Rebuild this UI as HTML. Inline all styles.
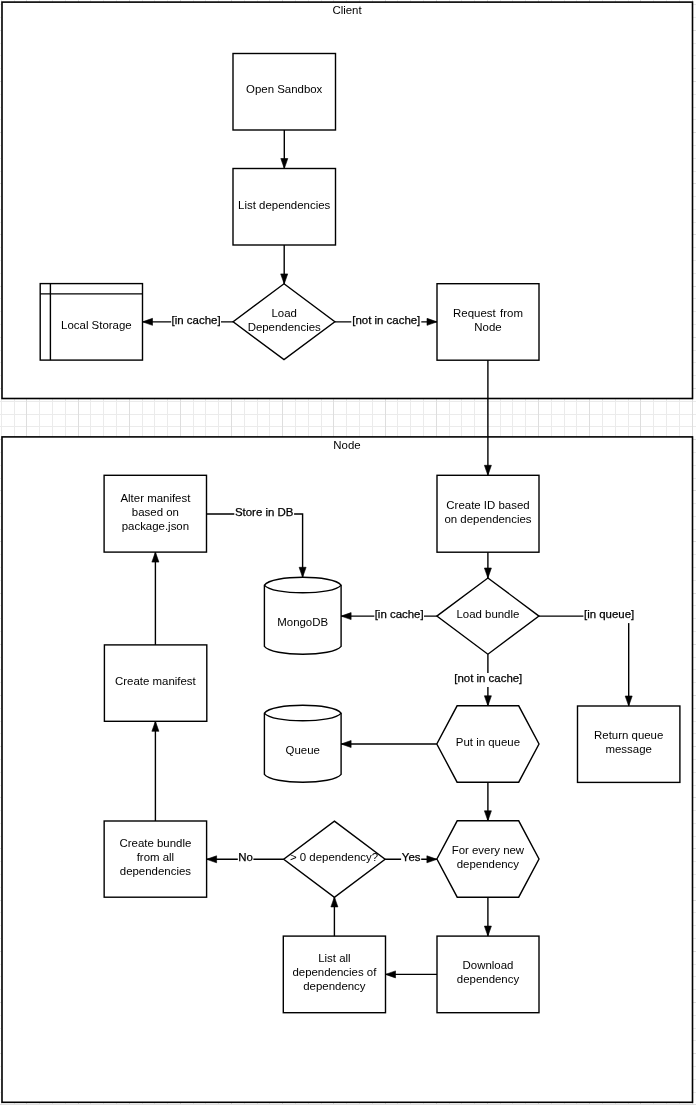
<!DOCTYPE html>
<html><head><meta charset="utf-8"><style>
html,body{margin:0;padding:0;background:#fff;}
body{width:696px;height:1105px;overflow:hidden;position:relative;}
svg{position:absolute;left:0;top:0;will-change:transform;}
.t{will-change:transform;}
text{font-family:"Liberation Sans",sans-serif;font-size:11.45px;}
</style></head><body>
<svg width="696" height="1105" viewBox="0 0 696 1105">
<g><line x1="1.50" y1="0" x2="1.50" y2="1105" stroke="#ebebeb" stroke-width="1"/><line x1="14.50" y1="0" x2="14.50" y2="1105" stroke="#ebebeb" stroke-width="1"/><line x1="39.50" y1="0" x2="39.50" y2="1105" stroke="#ebebeb" stroke-width="1"/><line x1="52.50" y1="0" x2="52.50" y2="1105" stroke="#ebebeb" stroke-width="1"/><line x1="65.50" y1="0" x2="65.50" y2="1105" stroke="#ebebeb" stroke-width="1"/><line x1="90.50" y1="0" x2="90.50" y2="1105" stroke="#ebebeb" stroke-width="1"/><line x1="103.50" y1="0" x2="103.50" y2="1105" stroke="#ebebeb" stroke-width="1"/><line x1="116.50" y1="0" x2="116.50" y2="1105" stroke="#ebebeb" stroke-width="1"/><line x1="142.50" y1="0" x2="142.50" y2="1105" stroke="#ebebeb" stroke-width="1"/><line x1="154.50" y1="0" x2="154.50" y2="1105" stroke="#ebebeb" stroke-width="1"/><line x1="167.50" y1="0" x2="167.50" y2="1105" stroke="#ebebeb" stroke-width="1"/><line x1="193.50" y1="0" x2="193.50" y2="1105" stroke="#ebebeb" stroke-width="1"/><line x1="205.50" y1="0" x2="205.50" y2="1105" stroke="#ebebeb" stroke-width="1"/><line x1="218.50" y1="0" x2="218.50" y2="1105" stroke="#ebebeb" stroke-width="1"/><line x1="244.50" y1="0" x2="244.50" y2="1105" stroke="#ebebeb" stroke-width="1"/><line x1="257.50" y1="0" x2="257.50" y2="1105" stroke="#ebebeb" stroke-width="1"/><line x1="269.50" y1="0" x2="269.50" y2="1105" stroke="#ebebeb" stroke-width="1"/><line x1="295.50" y1="0" x2="295.50" y2="1105" stroke="#ebebeb" stroke-width="1"/><line x1="308.50" y1="0" x2="308.50" y2="1105" stroke="#ebebeb" stroke-width="1"/><line x1="321.50" y1="0" x2="321.50" y2="1105" stroke="#ebebeb" stroke-width="1"/><line x1="346.50" y1="0" x2="346.50" y2="1105" stroke="#ebebeb" stroke-width="1"/><line x1="359.50" y1="0" x2="359.50" y2="1105" stroke="#ebebeb" stroke-width="1"/><line x1="372.50" y1="0" x2="372.50" y2="1105" stroke="#ebebeb" stroke-width="1"/><line x1="397.50" y1="0" x2="397.50" y2="1105" stroke="#ebebeb" stroke-width="1"/><line x1="410.50" y1="0" x2="410.50" y2="1105" stroke="#ebebeb" stroke-width="1"/><line x1="423.50" y1="0" x2="423.50" y2="1105" stroke="#ebebeb" stroke-width="1"/><line x1="449.50" y1="0" x2="449.50" y2="1105" stroke="#ebebeb" stroke-width="1"/><line x1="461.50" y1="0" x2="461.50" y2="1105" stroke="#ebebeb" stroke-width="1"/><line x1="474.50" y1="0" x2="474.50" y2="1105" stroke="#ebebeb" stroke-width="1"/><line x1="500.50" y1="0" x2="500.50" y2="1105" stroke="#ebebeb" stroke-width="1"/><line x1="512.50" y1="0" x2="512.50" y2="1105" stroke="#ebebeb" stroke-width="1"/><line x1="525.50" y1="0" x2="525.50" y2="1105" stroke="#ebebeb" stroke-width="1"/><line x1="551.50" y1="0" x2="551.50" y2="1105" stroke="#ebebeb" stroke-width="1"/><line x1="564.50" y1="0" x2="564.50" y2="1105" stroke="#ebebeb" stroke-width="1"/><line x1="576.50" y1="0" x2="576.50" y2="1105" stroke="#ebebeb" stroke-width="1"/><line x1="602.50" y1="0" x2="602.50" y2="1105" stroke="#ebebeb" stroke-width="1"/><line x1="615.50" y1="0" x2="615.50" y2="1105" stroke="#ebebeb" stroke-width="1"/><line x1="628.50" y1="0" x2="628.50" y2="1105" stroke="#ebebeb" stroke-width="1"/><line x1="653.50" y1="0" x2="653.50" y2="1105" stroke="#ebebeb" stroke-width="1"/><line x1="666.50" y1="0" x2="666.50" y2="1105" stroke="#ebebeb" stroke-width="1"/><line x1="679.50" y1="0" x2="679.50" y2="1105" stroke="#ebebeb" stroke-width="1"/><line x1="0" y1="4.50" x2="696" y2="4.50" stroke="#ebebeb" stroke-width="1"/><line x1="0" y1="17.50" x2="696" y2="17.50" stroke="#ebebeb" stroke-width="1"/><line x1="0" y1="43.50" x2="696" y2="43.50" stroke="#ebebeb" stroke-width="1"/><line x1="0" y1="55.50" x2="696" y2="55.50" stroke="#ebebeb" stroke-width="1"/><line x1="0" y1="68.50" x2="696" y2="68.50" stroke="#ebebeb" stroke-width="1"/><line x1="0" y1="94.50" x2="696" y2="94.50" stroke="#ebebeb" stroke-width="1"/><line x1="0" y1="107.50" x2="696" y2="107.50" stroke="#ebebeb" stroke-width="1"/><line x1="0" y1="119.50" x2="696" y2="119.50" stroke="#ebebeb" stroke-width="1"/><line x1="0" y1="145.50" x2="696" y2="145.50" stroke="#ebebeb" stroke-width="1"/><line x1="0" y1="158.50" x2="696" y2="158.50" stroke="#ebebeb" stroke-width="1"/><line x1="0" y1="171.50" x2="696" y2="171.50" stroke="#ebebeb" stroke-width="1"/><line x1="0" y1="196.50" x2="696" y2="196.50" stroke="#ebebeb" stroke-width="1"/><line x1="0" y1="209.50" x2="696" y2="209.50" stroke="#ebebeb" stroke-width="1"/><line x1="0" y1="222.50" x2="696" y2="222.50" stroke="#ebebeb" stroke-width="1"/><line x1="0" y1="247.50" x2="696" y2="247.50" stroke="#ebebeb" stroke-width="1"/><line x1="0" y1="260.50" x2="696" y2="260.50" stroke="#ebebeb" stroke-width="1"/><line x1="0" y1="273.50" x2="696" y2="273.50" stroke="#ebebeb" stroke-width="1"/><line x1="0" y1="298.50" x2="696" y2="298.50" stroke="#ebebeb" stroke-width="1"/><line x1="0" y1="311.50" x2="696" y2="311.50" stroke="#ebebeb" stroke-width="1"/><line x1="0" y1="324.50" x2="696" y2="324.50" stroke="#ebebeb" stroke-width="1"/><line x1="0" y1="350.50" x2="696" y2="350.50" stroke="#ebebeb" stroke-width="1"/><line x1="0" y1="362.50" x2="696" y2="362.50" stroke="#ebebeb" stroke-width="1"/><line x1="0" y1="375.50" x2="696" y2="375.50" stroke="#ebebeb" stroke-width="1"/><line x1="0" y1="401.50" x2="696" y2="401.50" stroke="#ebebeb" stroke-width="1"/><line x1="0" y1="414.50" x2="696" y2="414.50" stroke="#ebebeb" stroke-width="1"/><line x1="0" y1="426.50" x2="696" y2="426.50" stroke="#ebebeb" stroke-width="1"/><line x1="0" y1="452.50" x2="696" y2="452.50" stroke="#ebebeb" stroke-width="1"/><line x1="0" y1="465.50" x2="696" y2="465.50" stroke="#ebebeb" stroke-width="1"/><line x1="0" y1="478.50" x2="696" y2="478.50" stroke="#ebebeb" stroke-width="1"/><line x1="0" y1="503.50" x2="696" y2="503.50" stroke="#ebebeb" stroke-width="1"/><line x1="0" y1="516.50" x2="696" y2="516.50" stroke="#ebebeb" stroke-width="1"/><line x1="0" y1="529.50" x2="696" y2="529.50" stroke="#ebebeb" stroke-width="1"/><line x1="0" y1="554.50" x2="696" y2="554.50" stroke="#ebebeb" stroke-width="1"/><line x1="0" y1="567.50" x2="696" y2="567.50" stroke="#ebebeb" stroke-width="1"/><line x1="0" y1="580.50" x2="696" y2="580.50" stroke="#ebebeb" stroke-width="1"/><line x1="0" y1="605.50" x2="696" y2="605.50" stroke="#ebebeb" stroke-width="1"/><line x1="0" y1="618.50" x2="696" y2="618.50" stroke="#ebebeb" stroke-width="1"/><line x1="0" y1="631.50" x2="696" y2="631.50" stroke="#ebebeb" stroke-width="1"/><line x1="0" y1="657.50" x2="696" y2="657.50" stroke="#ebebeb" stroke-width="1"/><line x1="0" y1="669.50" x2="696" y2="669.50" stroke="#ebebeb" stroke-width="1"/><line x1="0" y1="682.50" x2="696" y2="682.50" stroke="#ebebeb" stroke-width="1"/><line x1="0" y1="708.50" x2="696" y2="708.50" stroke="#ebebeb" stroke-width="1"/><line x1="0" y1="721.50" x2="696" y2="721.50" stroke="#ebebeb" stroke-width="1"/><line x1="0" y1="733.50" x2="696" y2="733.50" stroke="#ebebeb" stroke-width="1"/><line x1="0" y1="759.50" x2="696" y2="759.50" stroke="#ebebeb" stroke-width="1"/><line x1="0" y1="772.50" x2="696" y2="772.50" stroke="#ebebeb" stroke-width="1"/><line x1="0" y1="785.50" x2="696" y2="785.50" stroke="#ebebeb" stroke-width="1"/><line x1="0" y1="810.50" x2="696" y2="810.50" stroke="#ebebeb" stroke-width="1"/><line x1="0" y1="823.50" x2="696" y2="823.50" stroke="#ebebeb" stroke-width="1"/><line x1="0" y1="836.50" x2="696" y2="836.50" stroke="#ebebeb" stroke-width="1"/><line x1="0" y1="861.50" x2="696" y2="861.50" stroke="#ebebeb" stroke-width="1"/><line x1="0" y1="874.50" x2="696" y2="874.50" stroke="#ebebeb" stroke-width="1"/><line x1="0" y1="887.50" x2="696" y2="887.50" stroke="#ebebeb" stroke-width="1"/><line x1="0" y1="912.50" x2="696" y2="912.50" stroke="#ebebeb" stroke-width="1"/><line x1="0" y1="925.50" x2="696" y2="925.50" stroke="#ebebeb" stroke-width="1"/><line x1="0" y1="938.50" x2="696" y2="938.50" stroke="#ebebeb" stroke-width="1"/><line x1="0" y1="964.50" x2="696" y2="964.50" stroke="#ebebeb" stroke-width="1"/><line x1="0" y1="976.50" x2="696" y2="976.50" stroke="#ebebeb" stroke-width="1"/><line x1="0" y1="989.50" x2="696" y2="989.50" stroke="#ebebeb" stroke-width="1"/><line x1="0" y1="1015.50" x2="696" y2="1015.50" stroke="#ebebeb" stroke-width="1"/><line x1="0" y1="1028.50" x2="696" y2="1028.50" stroke="#ebebeb" stroke-width="1"/><line x1="0" y1="1040.50" x2="696" y2="1040.50" stroke="#ebebeb" stroke-width="1"/><line x1="0" y1="1066.50" x2="696" y2="1066.50" stroke="#ebebeb" stroke-width="1"/><line x1="0" y1="1079.50" x2="696" y2="1079.50" stroke="#ebebeb" stroke-width="1"/><line x1="0" y1="1092.50" x2="696" y2="1092.50" stroke="#ebebeb" stroke-width="1"/><line x1="26.50" y1="0" x2="26.50" y2="1105" stroke="#dedede" stroke-width="1"/><line x1="78.50" y1="0" x2="78.50" y2="1105" stroke="#dedede" stroke-width="1"/><line x1="129.50" y1="0" x2="129.50" y2="1105" stroke="#dedede" stroke-width="1"/><line x1="180.50" y1="0" x2="180.50" y2="1105" stroke="#dedede" stroke-width="1"/><line x1="231.50" y1="0" x2="231.50" y2="1105" stroke="#dedede" stroke-width="1"/><line x1="282.50" y1="0" x2="282.50" y2="1105" stroke="#dedede" stroke-width="1"/><line x1="333.50" y1="0" x2="333.50" y2="1105" stroke="#dedede" stroke-width="1"/><line x1="385.50" y1="0" x2="385.50" y2="1105" stroke="#dedede" stroke-width="1"/><line x1="436.50" y1="0" x2="436.50" y2="1105" stroke="#dedede" stroke-width="1"/><line x1="487.50" y1="0" x2="487.50" y2="1105" stroke="#dedede" stroke-width="1"/><line x1="538.50" y1="0" x2="538.50" y2="1105" stroke="#dedede" stroke-width="1"/><line x1="589.50" y1="0" x2="589.50" y2="1105" stroke="#dedede" stroke-width="1"/><line x1="640.50" y1="0" x2="640.50" y2="1105" stroke="#dedede" stroke-width="1"/><line x1="692.50" y1="0" x2="692.50" y2="1105" stroke="#dedede" stroke-width="1"/><line x1="0" y1="30.50" x2="696" y2="30.50" stroke="#dedede" stroke-width="1"/><line x1="0" y1="81.50" x2="696" y2="81.50" stroke="#dedede" stroke-width="1"/><line x1="0" y1="132.50" x2="696" y2="132.50" stroke="#dedede" stroke-width="1"/><line x1="0" y1="183.50" x2="696" y2="183.50" stroke="#dedede" stroke-width="1"/><line x1="0" y1="234.50" x2="696" y2="234.50" stroke="#dedede" stroke-width="1"/><line x1="0" y1="286.50" x2="696" y2="286.50" stroke="#dedede" stroke-width="1"/><line x1="0" y1="337.50" x2="696" y2="337.50" stroke="#dedede" stroke-width="1"/><line x1="0" y1="388.50" x2="696" y2="388.50" stroke="#dedede" stroke-width="1"/><line x1="0" y1="439.50" x2="696" y2="439.50" stroke="#dedede" stroke-width="1"/><line x1="0" y1="490.50" x2="696" y2="490.50" stroke="#dedede" stroke-width="1"/><line x1="0" y1="541.50" x2="696" y2="541.50" stroke="#dedede" stroke-width="1"/><line x1="0" y1="593.50" x2="696" y2="593.50" stroke="#dedede" stroke-width="1"/><line x1="0" y1="644.50" x2="696" y2="644.50" stroke="#dedede" stroke-width="1"/><line x1="0" y1="695.50" x2="696" y2="695.50" stroke="#dedede" stroke-width="1"/><line x1="0" y1="746.50" x2="696" y2="746.50" stroke="#dedede" stroke-width="1"/><line x1="0" y1="797.50" x2="696" y2="797.50" stroke="#dedede" stroke-width="1"/><line x1="0" y1="848.50" x2="696" y2="848.50" stroke="#dedede" stroke-width="1"/><line x1="0" y1="900.50" x2="696" y2="900.50" stroke="#dedede" stroke-width="1"/><line x1="0" y1="951.50" x2="696" y2="951.50" stroke="#dedede" stroke-width="1"/><line x1="0" y1="1002.50" x2="696" y2="1002.50" stroke="#dedede" stroke-width="1"/><line x1="0" y1="1053.50" x2="696" y2="1053.50" stroke="#dedede" stroke-width="1"/><line x1="0" y1="1104.50" x2="696" y2="1104.50" stroke="#dedede" stroke-width="1"/></g>
<g><rect x="2.0" y="2.1" width="690.50" height="396.40" fill="#fff" stroke="#000" stroke-width="1.6"/><rect x="2.0" y="436.9" width="690.50" height="665.40" fill="#fff" stroke="#000" stroke-width="1.6"/><rect x="233.0" y="53.5" width="102.50" height="76.50" fill="#fff" stroke="#000" stroke-width="1.4"/><polyline points="284.3,130.0 284.3,168.5" fill="none" stroke="#000" stroke-width="1.4"/><polygon points="284.30,168.50 280.80,158.50 287.80,158.50" fill="#000" stroke="#000" stroke-width="0.6" stroke-linejoin="miter"/><rect x="233.0" y="168.5" width="102.50" height="76.50" fill="#fff" stroke="#000" stroke-width="1.4"/><polyline points="284.2,245.0 284.2,283.9" fill="none" stroke="#000" stroke-width="1.4"/><polygon points="284.20,283.90 280.70,273.90 287.70,273.90" fill="#000" stroke="#000" stroke-width="0.6" stroke-linejoin="miter"/><polygon points="284.0,283.75 334.85,321.7 284.0,359.65 233.15,321.7" fill="#fff" stroke="#000" stroke-width="1.4" stroke-linejoin="miter"/><rect x="40.2" y="283.6" width="102.30" height="76.50" fill="#fff" stroke="#000" stroke-width="1.4"/><polyline points="50.4,283.6 50.4,360.1" fill="none" stroke="#000" stroke-width="1.4"/><polyline points="40.2,293.9 142.5,293.9" fill="none" stroke="#000" stroke-width="1.4"/><polyline points="233.2,321.85 142.5,321.85" fill="none" stroke="#000" stroke-width="1.4"/><polygon points="142.50,321.85 152.50,318.35 152.50,325.35" fill="#000" stroke="#000" stroke-width="0.6" stroke-linejoin="miter"/><polyline points="334.8,321.85 437.0,321.85" fill="none" stroke="#000" stroke-width="1.4"/><polygon points="437.00,321.85 427.00,318.35 427.00,325.35" fill="#000" stroke="#000" stroke-width="0.6" stroke-linejoin="miter"/><rect x="437.0" y="283.7" width="102.00" height="76.50" fill="#fff" stroke="#000" stroke-width="1.4"/><polyline points="487.9,360.2 487.9,475.3" fill="none" stroke="#000" stroke-width="1.4"/><polygon points="487.90,475.30 484.40,465.30 491.40,465.30" fill="#000" stroke="#000" stroke-width="0.6" stroke-linejoin="miter"/><rect x="437.0" y="475.3" width="102.00" height="76.90" fill="#fff" stroke="#000" stroke-width="1.4"/><polyline points="487.9,552.2 487.9,578.0" fill="none" stroke="#000" stroke-width="1.4"/><polygon points="487.90,578.00 484.40,568.00 491.40,568.00" fill="#000" stroke="#000" stroke-width="0.6" stroke-linejoin="miter"/><polygon points="487.9,578.0 538.9499999999999,616.1 487.9,654.2 436.84999999999997,616.1" fill="#fff" stroke="#000" stroke-width="1.4" stroke-linejoin="miter"/><path d="M264.40,585.05 L264.40,646.45 C272.07,656.78 333.43,656.78 341.10,646.45 L341.10,585.05 C333.43,574.72 272.07,574.72 264.40,585.05 Z" fill="#fff" stroke="#000" stroke-width="1.4" stroke-linejoin="round"/><path d="M264.40,585.05 C272.07,595.38 333.43,595.38 341.10,585.05" fill="none" stroke="#000" stroke-width="1.4"/><polyline points="436.9,616.1 341.1,616.1" fill="none" stroke="#000" stroke-width="1.4"/><polygon points="341.10,616.10 351.10,612.60 351.10,619.60" fill="#000" stroke="#000" stroke-width="0.6" stroke-linejoin="miter"/><polyline points="538.9,616.1 628.7,616.1 628.7,706.0" fill="none" stroke="#000" stroke-width="1.4"/><polygon points="628.70,706.00 625.20,696.00 632.20,696.00" fill="#000" stroke="#000" stroke-width="0.6" stroke-linejoin="miter"/><rect x="577.5" y="706.0" width="102.40" height="76.40" fill="#fff" stroke="#000" stroke-width="1.4"/><polyline points="487.9,654.2 487.9,705.8" fill="none" stroke="#000" stroke-width="1.4"/><polygon points="487.90,705.80 484.40,695.80 491.40,695.80" fill="#000" stroke="#000" stroke-width="0.6" stroke-linejoin="miter"/><polygon points="457.1,705.8 518.7,705.8 539.0,744.0 518.7,782.2 457.1,782.2 436.8,744.0" fill="#fff" stroke="#000" stroke-width="1.4" stroke-linejoin="miter"/><path d="M264.40,713.05 L264.40,774.45 C272.07,784.78 333.43,784.78 341.10,774.45 L341.10,713.05 C333.43,702.72 272.07,702.72 264.40,713.05 Z" fill="#fff" stroke="#000" stroke-width="1.4" stroke-linejoin="round"/><path d="M264.40,713.05 C272.07,723.38 333.43,723.38 341.10,713.05" fill="none" stroke="#000" stroke-width="1.4"/><polyline points="436.8,744.0 341.1,744.0" fill="none" stroke="#000" stroke-width="1.4"/><polygon points="341.10,744.00 351.10,740.50 351.10,747.50" fill="#000" stroke="#000" stroke-width="0.6" stroke-linejoin="miter"/><polyline points="487.9,782.2 487.9,820.8" fill="none" stroke="#000" stroke-width="1.4"/><polygon points="487.90,820.80 484.40,810.80 491.40,810.80" fill="#000" stroke="#000" stroke-width="0.6" stroke-linejoin="miter"/><polygon points="457.2,820.8 518.7,820.8 539.0,859.0 518.7,897.2 457.2,897.2 436.9,859.0" fill="#fff" stroke="#000" stroke-width="1.4" stroke-linejoin="miter"/><polyline points="487.9,897.2 487.9,936.1" fill="none" stroke="#000" stroke-width="1.4"/><polygon points="487.90,936.10 484.40,926.10 491.40,926.10" fill="#000" stroke="#000" stroke-width="0.6" stroke-linejoin="miter"/><rect x="437.0" y="936.1" width="102.00" height="76.60" fill="#fff" stroke="#000" stroke-width="1.4"/><polyline points="437.0,974.4 385.5,974.4" fill="none" stroke="#000" stroke-width="1.4"/><polygon points="385.50,974.40 395.50,970.90 395.50,977.90" fill="#000" stroke="#000" stroke-width="0.6" stroke-linejoin="miter"/><rect x="283.3" y="936.1" width="102.20" height="76.60" fill="#fff" stroke="#000" stroke-width="1.4"/><polyline points="334.4,936.1 334.4,896.9" fill="none" stroke="#000" stroke-width="1.4"/><polygon points="334.40,896.90 330.90,906.90 337.90,906.90" fill="#000" stroke="#000" stroke-width="0.6" stroke-linejoin="miter"/><polygon points="334.4,821.1 385.09999999999997,859.2 334.4,897.3000000000001 283.7,859.2" fill="#fff" stroke="#000" stroke-width="1.4" stroke-linejoin="miter"/><polyline points="385.1,859.3 436.9,859.3" fill="none" stroke="#000" stroke-width="1.4"/><polygon points="436.90,859.30 426.90,855.80 426.90,862.80" fill="#000" stroke="#000" stroke-width="0.6" stroke-linejoin="miter"/><polyline points="283.7,859.3 206.6,859.3" fill="none" stroke="#000" stroke-width="1.4"/><polygon points="206.60,859.30 216.60,855.80 216.60,862.80" fill="#000" stroke="#000" stroke-width="0.6" stroke-linejoin="miter"/><rect x="104.15" y="821.0" width="102.45" height="76.20" fill="#fff" stroke="#000" stroke-width="1.4"/><polyline points="155.4,821.0 155.4,721.3" fill="none" stroke="#000" stroke-width="1.4"/><polygon points="155.40,721.30 151.90,731.30 158.90,731.30" fill="#000" stroke="#000" stroke-width="0.6" stroke-linejoin="miter"/><rect x="104.4" y="644.9" width="102.40" height="76.40" fill="#fff" stroke="#000" stroke-width="1.4"/><polyline points="155.4,644.9 155.4,552.1" fill="none" stroke="#000" stroke-width="1.4"/><polygon points="155.40,552.10 151.90,562.10 158.90,562.10" fill="#000" stroke="#000" stroke-width="0.6" stroke-linejoin="miter"/><rect x="104.1" y="475.3" width="102.40" height="76.80" fill="#fff" stroke="#000" stroke-width="1.4"/><polyline points="206.5,514.0 302.6,514.0 302.6,577.3" fill="none" stroke="#000" stroke-width="1.4"/><polygon points="302.60,577.30 299.10,567.30 306.10,567.30" fill="#000" stroke="#000" stroke-width="0.6" stroke-linejoin="miter"/></g>
<g><rect x="171.2" y="314.85" width="49.80000000000001" height="14" fill="#fff"/><text x="196.10" y="324.05" fill="#000" stroke="#000" stroke-width="0.25" text-anchor="middle">[in cache]</text><rect x="351.3" y="314.85" width="70.0" height="14" fill="#fff"/><text x="386.30" y="324.05" fill="#000" stroke="#000" stroke-width="0.25" text-anchor="middle">[not in cache]</text><rect x="374.3" y="609.1" width="49.69999999999999" height="14" fill="#fff"/><text x="399.15" y="618.30" fill="#000" stroke="#000" stroke-width="0.25" text-anchor="middle">[in cache]</text><rect x="583.4" y="609.1" width="51.39999999999998" height="14" fill="#fff"/><text x="609.10" y="618.30" fill="#000" stroke="#000" stroke-width="0.25" text-anchor="middle">[in queue]</text><rect x="453.4" y="673.0" width="69.80000000000007" height="14" fill="#fff"/><text x="488.30" y="682.20" fill="#000" stroke="#000" stroke-width="0.25" text-anchor="middle">[not in cache]</text><rect x="401.1" y="852.1" width="20.099999999999966" height="14" fill="#fff"/><text x="411.15" y="861.30" fill="#000" stroke="#000" stroke-width="0.25" text-anchor="middle">Yes</text><rect x="237.8" y="852.1" width="15.599999999999994" height="14" fill="#fff"/><text x="245.60" y="861.30" fill="#000" stroke="#000" stroke-width="0.25" text-anchor="middle">No</text><rect x="234.3" y="506.6" width="59.80000000000001" height="14" fill="#fff"/><text x="264.20" y="515.80" fill="#000" stroke="#000" stroke-width="0.25" text-anchor="middle">Store in DB</text></g>
<g><text x="347" y="14" fill="#000" text-anchor="middle">Client</text><text x="347" y="448.8" fill="#000" text-anchor="middle">Node</text><text x="284.2" y="93.1" fill="#000" text-anchor="middle">Open Sandbox</text><text x="284.2" y="209.1" fill="#000" text-anchor="middle">List dependencies</text><text x="284.2" y="316.9" fill="#000" text-anchor="middle">Load</text><text x="284.2" y="330.7" fill="#000" text-anchor="middle">Dependencies</text><text x="96.4" y="329.3" fill="#000" text-anchor="middle">Local Storage</text><text x="488.0" y="317.2" fill="#000" word-spacing="1.2" text-anchor="middle">Request from</text><text x="488.0" y="331.0" fill="#000" text-anchor="middle">Node</text><text x="488.0" y="509.3" fill="#000" text-anchor="middle">Create ID based</text><text x="488.0" y="523.1" fill="#000" text-anchor="middle">on dependencies</text><text x="487.9" y="617.8" fill="#000" text-anchor="middle">Load bundle</text><text x="302.7" y="626.0" fill="#000" text-anchor="middle">MongoDB</text><text x="628.7" y="739.4" fill="#000" text-anchor="middle">Return queue</text><text x="628.7" y="753.2" fill="#000" text-anchor="middle">message</text><text x="487.9" y="746.4" fill="#000" text-anchor="middle">Put in queue</text><text x="302.7" y="753.9" fill="#000" text-anchor="middle">Queue</text><text x="487.9" y="854.4" fill="#000" text-anchor="middle">For every new</text><text x="487.9" y="868.2" fill="#000" text-anchor="middle">dependency</text><text x="488.0" y="969.4" fill="#000" text-anchor="middle">Download</text><text x="488.0" y="983.2" fill="#000" text-anchor="middle">dependency</text><text x="334.4" y="962.2" fill="#000" text-anchor="middle">List all</text><text x="334.4" y="976.0" fill="#000" text-anchor="middle">dependencies of</text><text x="334.4" y="989.8" fill="#000" text-anchor="middle">dependency</text><text x="334.0" y="861.2" fill="#000" text-anchor="middle">&gt; 0 dependency?</text><text x="155.4" y="847.2" fill="#000" text-anchor="middle">Create bundle</text><text x="155.4" y="861.0" fill="#000" text-anchor="middle">from all</text><text x="155.4" y="874.8" fill="#000" text-anchor="middle">dependencies</text><text x="155.4" y="684.7" fill="#000" text-anchor="middle">Create manifest</text><text x="155.4" y="502.2" fill="#000" text-anchor="middle">Alter manifest</text><text x="155.4" y="516.0" fill="#000" text-anchor="middle">based on</text><text x="155.4" y="529.8" fill="#000" text-anchor="middle">package.json</text></g>
</svg>
</body></html>
